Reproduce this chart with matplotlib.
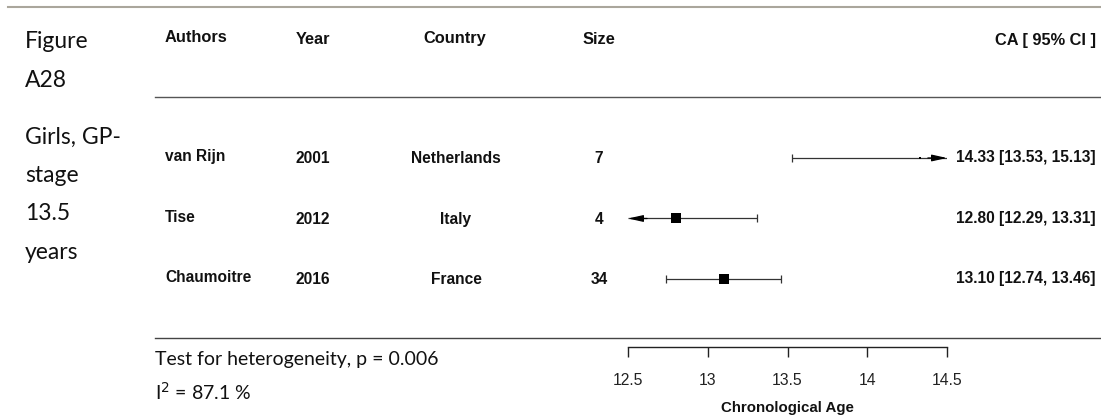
import numpy as np
import matplotlib.pyplot as plt

authors = ["van Rijn", "Tise", "Chaumoitre"]
years = [2001, 2012, 2016]
countries = ["Netherlands", "Italy", "France"]
sizes = [7, 4, 34]
ca = [14.33, 12.80, 13.10]
ci_lo = [13.53, 12.29, 12.74]
ci_hi = [15.13, 13.31, 13.46]
ticks = [12.5, 13, 13.5, 14, 14.5]
tick_labels = ["12.5", "13", "13.5", "14", "14.5"]
side_lines = ["Figure", "A28", "Girls, GP-", "stage", "13.5", "years"]
het_p = "0.006"
i2 = "87.1"

W, H = 1101, 418
fig = plt.figure(figsize=(W / 100, H / 100), dpi=100)

bold = dict(family="Liberation Sans", fontweight="bold", color="#111111")
cal = dict(family="Lato", color="#111111")


def fx(px):
    return px / W


def fy(py):
    return 1 - py / H


# forest axes: x from 12.5 (px 628) to 14.5 (px 947), y from px 97 to 347
ax = fig.add_axes([fx(628), fy(347), fx(947) - fx(628), (347 - 97) / H])
ax.set_xlim(12.5, 14.5)
ax.set_ylim(-0.124, 4.008)
for s in ["top", "right", "left"]:
    ax.spines[s].set_visible(False)
ax.spines["bottom"].set_bounds(12.5, 14.5)
ax.spines["bottom"].set_color("#222222")
ax.spines["bottom"].set_linewidth(1.0)
ax.set_yticks([])
ax.set_xticks(ticks)
ax.set_xticklabels(tick_labels, family="Liberation Sans", fontsize=11.3, color="#222222")
ax.tick_params(axis="x", direction="out", length=7, width=1.0, color="#222222", pad=12)
ax.set_xlabel("Chronological Age", family="Liberation Sans", fontweight="bold",
              fontsize=10.8, color="#111111", labelpad=9)
ax.patch.set_visible(False)

# point sizes from inverse standard errors
se = (np.array(ci_hi) - np.array(ci_lo)) / 3.92
w = 1 / se
norm = (w - w.min()) / (w.max() - w.min())
msize = (2 + 8.5 * norm ** 0.25) * 0.72

arrow = dict(arrowstyle="-|>,head_length=0.9,head_width=0.2",
             color="black", lw=0.9, shrinkA=0, shrinkB=0)

ypos = np.arange(len(authors))[::-1] + 1
xmin, xmax = ax.get_xlim()
for y, m, lo, hi, s in zip(ypos, ca, ci_lo, ci_hi, msize):
    a = max(lo, xmin)
    b = min(hi, xmax)
    ax.plot([a, b], [y, y], color="#333333", lw=0.9, solid_capstyle="butt")
    if lo >= xmin:
        ax.plot(lo, y, marker="|", ms=6, mew=0.9, color="#333333")
    else:
        ax.annotate("", xy=(xmin, y), xytext=(xmin + 0.12, y),
                    arrowprops=arrow, annotation_clip=False)
    if hi <= xmax:
        ax.plot(hi, y, marker="|", ms=6, mew=0.9, color="#333333")
    else:
        ax.annotate("", xy=(xmax, y), xytext=(xmax - 0.12, y),
                    arrowprops=arrow, annotation_clip=False)
    ax.plot(m, y, marker="s", ms=s, color="black", mew=0)

# row text, placed at the same y as the points
for y, au, yr, co, n, m, lo, hi in zip(ypos, authors, years, countries, sizes, ca, ci_lo, ci_hi):
    py = 347 - (y + 0.124) * 60.5
    fig.text(fx(165), fy(py - 1), au, ha="left", va="center", fontsize=11.2, **bold)
    fig.text(fx(296), fy(py + 1), str(yr), ha="left", va="center", fontsize=11.2, **bold)
    fig.text(fx(456), fy(py + 1), co, ha="center", va="center", fontsize=11.2, **bold)
    fig.text(fx(599), fy(py + 1), str(n), ha="center", va="center", fontsize=11.2, **bold)
    fig.text(fx(1096), fy(py), f"{m:.2f} [{lo:.2f}, {hi:.2f}]", ha="right", va="center",
             fontsize=11.2, **bold)

# header
fig.text(fx(165), fy(38), "Authors", ha="left", va="center", fontsize=11.8, **bold)
fig.text(fx(296), fy(40), "Year", ha="left", va="center", fontsize=11.8, **bold)
fig.text(fx(455), fy(38), "Country", ha="center", va="center", fontsize=11.8, **bold)
fig.text(fx(599), fy(40), "Size", ha="center", va="center", fontsize=11.8, **bold)
fig.text(fx(1096), fy(40), "CA [ 95% CI ]", ha="right", va="center", fontsize=11.8, **bold)

# left caption
for i, t in enumerate(side_lines):
    fig.text(fx(25), fy(42 + i * 38.5 + (18 if i >= 2 else 0)), t, ha="left", va="center",
             fontsize=16.5, **cal)

# heterogeneity text
fig.text(fx(155), fy(360), f"Test for heterogeneity, p = {het_p}", ha="left", va="center",
         fontsize=14, **cal)
fig.text(fx(155), fy(392), f"I$^2$ = {i2} %", ha="left", va="center", fontsize=14, **cal)

# rules
fig.add_artist(plt.Line2D([fx(8), 1], [fy(7), fy(7)], color="#aaa69c", lw=1.5))
fig.add_artist(plt.Line2D([fx(155), 1], [fy(97), fy(97)], color="#555555", lw=1.0))
fig.add_artist(plt.Line2D([fx(155), 1], [fy(338), fy(338)], color="#444444", lw=1.0))

fig.savefig("out.png", dpi=100)
